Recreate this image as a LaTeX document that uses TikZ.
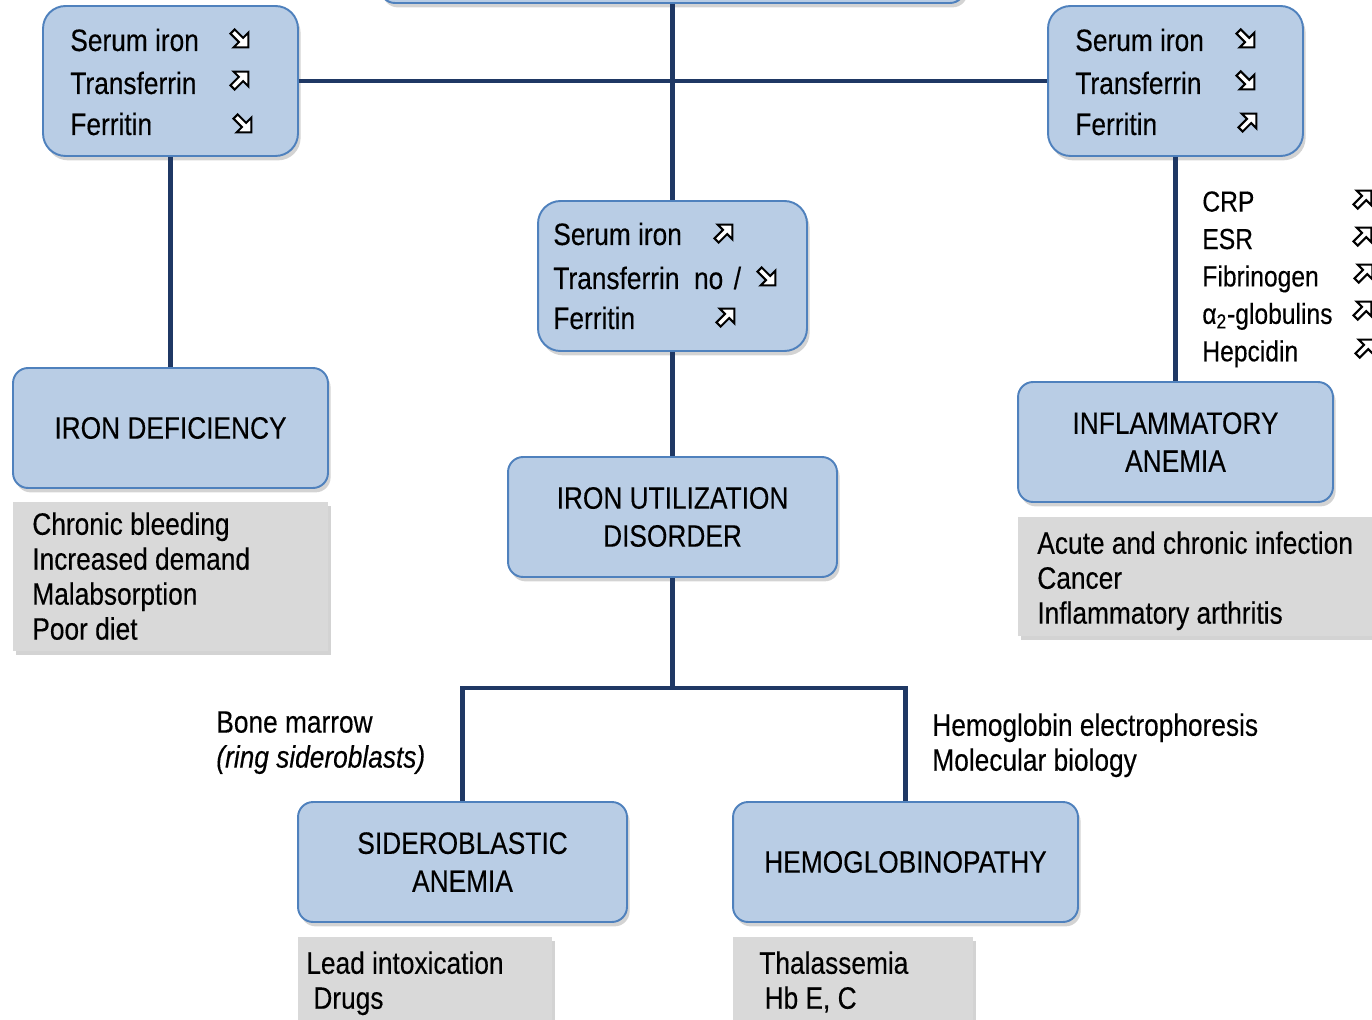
\documentclass[tikz,border=0pt]{standalone}
\usepackage{fontspec}
\setmainfont[FakeStretch=0.85,FakeBold=0.3]{Liberation Sans}
\usetikzlibrary{shadows}
\definecolor{boxfill}{HTML}{B9CDE5}
\definecolor{boxline}{HTML}{4F81BD}
\definecolor{connc}{HTML}{1F3864}
\definecolor{grayfill}{HTML}{D9D9D9}
\tikzset{
  nearr/.pic={\draw[line width=1.2pt, fill=white, line join=miter, rotate=45]
     (-12,-3) -- (0,-3) -- (0,-10.5) -- (10.5,0) -- (0,10.5) -- (0,3) -- (-12,3) -- cycle;},
  searr/.pic={\draw[line width=1.2pt, fill=white, line join=miter, rotate=-45]
     (-12,-3) -- (0,-3) -- (0,-10.5) -- (10.5,0) -- (0,10.5) -- (0,3) -- (-12,3) -- cycle;}
}
\begin{document}
\begin{tikzpicture}[x=0.02cm,y=0.02cm,
  bluebox/.style={draw=boxline, line width=1.1pt, fill=boxfill, rounded corners=0.3cm,
     inner sep=0pt, align=center, font=\fontsize{17.6}{21.6}\selectfont,
     drop shadow={shadow xshift=1.5pt, shadow yshift=-2.5pt, opacity=0.35}},
  smallbox/.style={bluebox, rounded corners=0.45cm, minimum height=3.0cm},
  bigbox/.style={bluebox, minimum height=2.4cm},
  graybox/.style={fill=grayfill, inner sep=0pt,
     drop shadow={shadow xshift=1.5pt, shadow yshift=-2.5pt, opacity=0.35}},
  connline/.style={draw=connc, line width=2.3pt, line join=miter},
  row/.style={font=\fontsize{17.6}{21}\selectfont, inner sep=0pt, anchor=base west},
  block/.style={font=\fontsize{17.6}{19.9}\selectfont, inner sep=0pt, anchor=north west, align=left},
  list/.style={font=\fontsize{16.5}{21.3}\selectfont, inner sep=0pt, anchor=north west, align=left}
]
\clip (0,0) rectangle (1372,-1020);

\node[bluebox, minimum width=11.7cm, minimum height=1.26cm] (top) at (672.5,28.5) {};
\node[smallbox, minimum width=5.1cm] (lbox) at (170.5,-81) {};
\node[smallbox, minimum width=5.1cm] (rbox) at (1175.5,-81) {};
\node[smallbox, minimum width=5.38cm] (mbox) at (672.5,-276) {};
\node[bigbox, minimum width=6.3cm] (irondef) at (170.5,-428) {IRON DEFICIENCY};
\node[bigbox, minimum width=6.58cm] (util) at (672.5,-517) {IRON UTILIZATION\\DISORDER};
\node[bigbox, minimum width=6.3cm] (inflam) at (1175.5,-442) {INFLAMMATORY\\ANEMIA};
\node[bigbox, minimum width=6.58cm] (sidero) at (462.5,-862) {SIDEROBLASTIC\\ANEMIA};
\node[bigbox, minimum width=6.9cm] (hemo) at (905.5,-862) {HEMOGLOBINOPATHY};

\draw[connline] (top.south) -- (mbox.north);
\draw[connline] (lbox.east) -- (rbox.west);
\draw[connline] (lbox.south) -- (irondef.north);
\draw[connline] (mbox.south) -- (util.north);
\draw[connline] (rbox.south) -- (inflam.north);
\coordinate (junc) at (672.5,-688);
\draw[connline] (util.south) -- (junc);
\draw[connline] (sidero.north) -- (sidero.north |- junc) -- (hemo.north |- junc) -- (hemo.north);

% gray boxes
\node[graybox, minimum width=6.3cm, minimum height=2.98cm] (g1) at (170.5,-576.5) {};
\node[graybox, minimum width=7.44cm, minimum height=2.38cm] (g2) at (1204,-576.5) {};
\node[graybox, minimum width=5.08cm, minimum height=1.86cm] (g3) at (425,-983.5) {};
\node[graybox, minimum width=4.8cm, minimum height=1.86cm] (g4) at (853,-983.5) {};

% small box rows
\node[row] (la) at (70,-51) {Serum iron};
\node[row] (lb) at (70,-94) {Transferrin};
\node[row] (lc) at (70,-135) {Ferritin};
\pic at (241,-40) {searr};
\pic at (241,-79) {nearr};
\pic at (244,-125) {searr};

\node[row] (ra) at (1075,-51) {Serum iron};
\node[row] (rb) at (1075,-94) {Transferrin};
\node[row] (rc) at (1075,-135) {Ferritin};
\pic at (1247,-40) {searr};
\pic at (1247,-82) {searr};
\pic at (1249,-121) {nearr};

\node[row] (ma) at (553,-245) {Serum iron};
\node[row] (mb) at (553,-289) {Transferrin~ no\hspace{6pt}/};
\node[row] (mc) at (553,-329) {Ferritin};
\pic at (725,-232) {nearr};
\pic at (768,-278) {searr};
\pic at (727,-316) {nearr};

% right list
\node[list] (lab) at (1202,-191) {CRP\\ESR\\Fibrinogen\\α\textsubscript{2}-globulins\\Hepcidin};
\pic at (1364,-198) {nearr};
\pic at (1364,-235) {nearr};
\pic at (1365,-272) {nearr};
\pic at (1364,-309) {nearr};
\pic at (1366,-347) {nearr};

% gray box texts
\node[block] (t1) at (32,-512) {Chronic bleeding\\Increased demand\\Malabsorption\\Poor diet};
\node[block] (t2) at (1037,-531) {Acute and chronic infection\\Cancer\\Inflammatory arthritis};
\node[block] (t3) at (306,-951) {Lead intoxication\\\hspace*{4pt}Drugs};
\node[block] (t4) at (759,-951) {Thalassemia\\\hspace*{3pt}Hb E, C};

% side labels
\node[block] (bm) at (216,-711) {Bone marrow\\\itshape (ring sideroblasts)};
\node[block] (he) at (932,-713) {Hemoglobin electrophoresis\\Molecular biology};
\end{tikzpicture}
\end{document}
